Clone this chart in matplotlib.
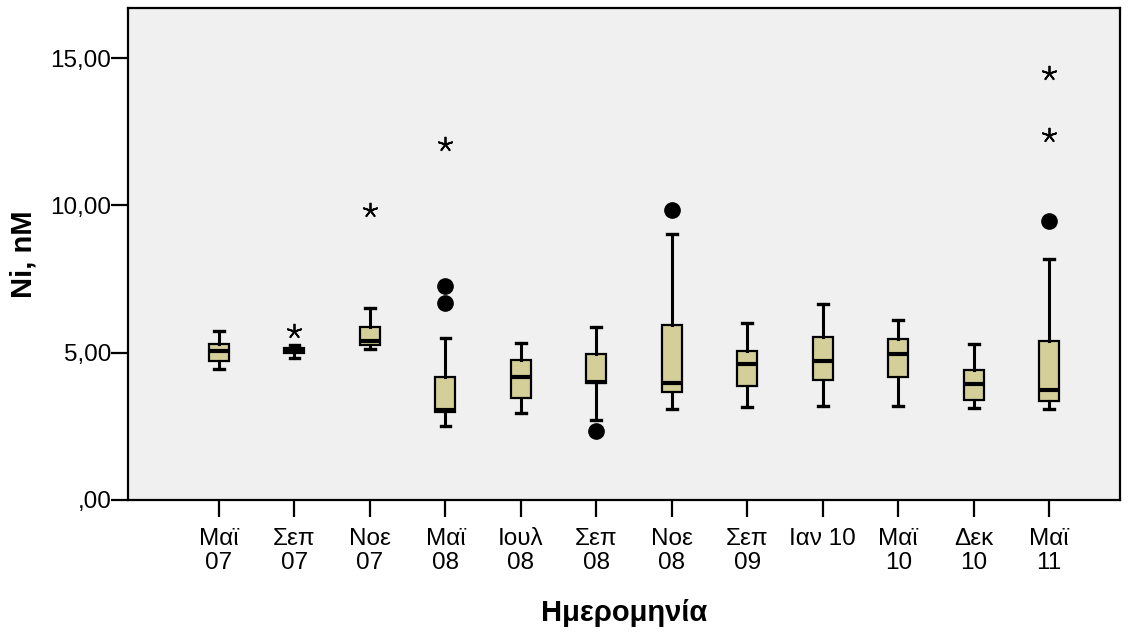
import matplotlib
matplotlib.use("Agg")
import matplotlib.pyplot as plt

plt.rcParams['font.family'] = ['Liberation Sans', 'DejaVu Sans']

# categories (dates)
labels = ['Μαϊ\n07', 'Σεπ\n07', 'Νοε\n07', 'Μαϊ\n08', 'Ιουλ\n08', 'Σεπ\n08',
          'Νοε\n08', 'Σεπ\n09', 'Ιαν 10', 'Μαϊ\n10', 'Δεκ\n10', 'Μαϊ\n11']

# box statistics (Ni, nM)
whislo = [4.46, 4.82, 5.11, 2.50, 2.94, 2.71, 3.09, 3.17, 3.20, 3.18, 3.11, 3.10]
q1     = [4.73, 4.99, 5.27, 3.00, 3.45, 3.96, 3.66, 3.88, 4.07, 4.19, 3.39, 3.36]
med    = [5.07, 5.10, 5.40, 3.05, 4.16, 4.01, 3.96, 4.63, 4.72, 4.96, 3.93, 3.74]
q3     = [5.30, 5.17, 5.86, 4.19, 4.75, 4.95, 5.93, 5.06, 5.53, 5.46, 4.41, 5.40]
whishi = [5.73, 5.25, 6.53, 5.49, 5.32, 5.86, 9.03, 6.00, 6.66, 6.11, 5.28, 8.17]

# outliers (circles) and extremes (asterisks)
outliers = [[], [], [], [7.26, 6.70], [], [2.35], [9.84], [], [], [], [], [9.47]]
extremes = [[], [5.75], [9.84], [12.10], [], [], [], [], [], [], [], [14.48, 12.39]]

box_color = '#d4cf98'

fig = plt.figure(figsize=(11.34, 6.32), dpi=100)
fig.patch.set_facecolor('white')
ax = fig.add_axes([0.1129, 0.2089, 0.8748, 0.7784])
ax.set_facecolor('#f0f0f0')

stats = []
for i in range(len(labels)):
    stats.append({'whislo': whislo[i], 'q1': q1[i], 'med': med[i],
                  'q3': q3[i], 'whishi': whishi[i], 'fliers': outliers[i]})

pos = list(range(1, len(labels) + 1))
ax.bxp(stats, positions=pos, widths=0.265, patch_artist=True,
       showfliers=True, capwidths=0.13,
       boxprops=dict(facecolor=box_color, edgecolor='black', linewidth=1.6),
       medianprops=dict(color='black', linewidth=3),
       whiskerprops=dict(color='black', linewidth=2.2),
       capprops=dict(color='black', linewidth=2.4),
       flierprops=dict(marker='o', markerfacecolor='black',
                       markeredgecolor='black', markersize=11))

for p, ext in zip(pos, extremes):
    if ext:
        ax.plot([p] * len(ext), ext, linestyle='none', marker=(5, 2, 0),
                markersize=11, markeredgewidth=1.3, color='black')

ax.set_xlim(-0.206, 12.94)
ax.set_ylim(0, 16.7)
ax.set_xticks(pos)
ax.set_xticklabels(labels, fontsize=17.5, linespacing=1.15)
ax.set_yticks([0, 5, 10, 15])
ax.set_yticklabels([',00', '5,00', '10,00', '15,00'], fontsize=17.5)
ax.tick_params(axis='both', length=12, width=1.6, color='black')
ax.tick_params(axis='x', pad=8)
ax.tick_params(axis='y', pad=0)
for s in ax.spines.values():
    s.set_linewidth(1.6)

ax.set_ylabel('Ni, nM', fontsize=21, fontweight='bold', labelpad=9)
ax.set_xlabel('Ημερομηνία', fontsize=21, fontweight='bold', labelpad=18)

fig.savefig('out.png', dpi=100)
